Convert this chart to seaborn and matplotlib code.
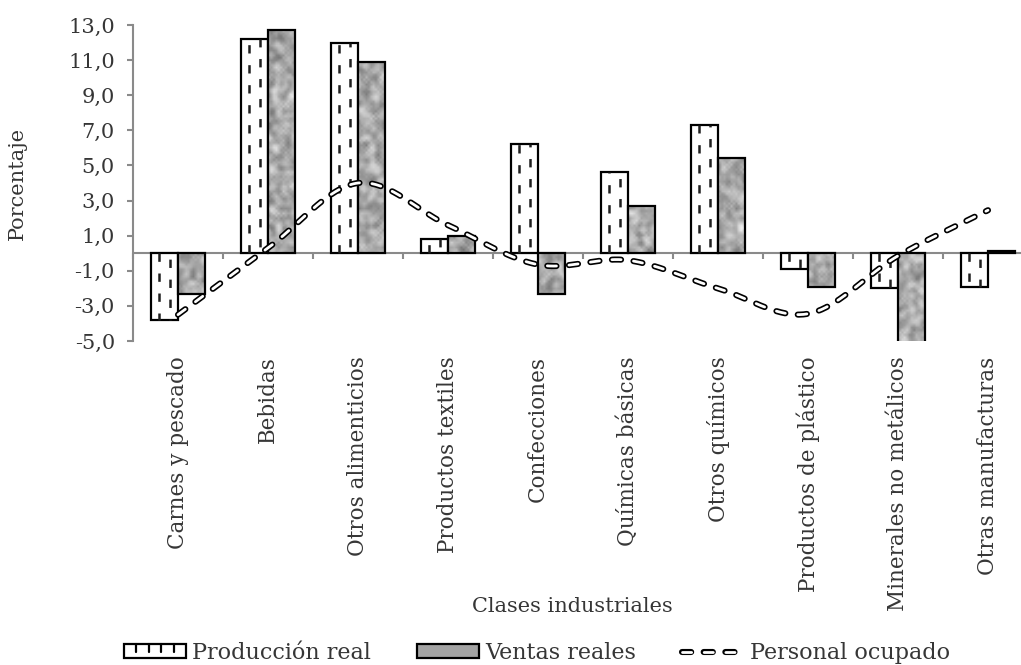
import numpy as np
import pandas as pd
import matplotlib
matplotlib.use("Agg")
import matplotlib.pyplot as plt
import seaborn as sns
from matplotlib.path import Path
from matplotlib.patches import PathPatch, Rectangle
from matplotlib.lines import Line2D
from matplotlib.legend_handler import HandlerBase, HandlerTuple
from matplotlib.ticker import FuncFormatter, FixedLocator

# ---- data -------------------------------------------------------------
clases = [
    "Carnes y pescado", "Bebidas", "Otros alimenticios", "Productos textiles",
    "Confecciones", "Químicas básicas", "Otros químicos", "Productos de plástico",
    "Minerales no metálicos", "Otras manufacturas",
]
produccion_real = [-3.8, 12.2, 12.0, 0.8, 6.2, 4.6, 7.3, -0.9, -2.0, -1.9]
ventas_reales = [-2.3, 12.7, 10.9, 1.0, -2.3, 2.7, 5.4, -1.9, -5.4, 0.1]
personal_ocupado = [-3.5, 0.3, 4.0, 1.6, -0.65, -0.4, -2.0, -3.45, -0.15, 2.45]
y_ticks = [-5, -3, -1, 1, 3, 5, 7, 9, 11, 13]

series_names = ["Producción real", "Ventas reales", "Personal ocupado"]

df = pd.DataFrame({
    "Clase": clases * 2,
    "Valor": produccion_real + ventas_reales,
    "Serie": [series_names[0]] * len(clases) + [series_names[1]] * len(clases),
})

# ---- style --------------------------------------------------------------
sns.set_style("white")
plt.rcParams["font.family"] = ["DejaVu Serif"]
plt.rcParams["lines.scale_dashes"] = False
TEXT = "#363636"
AXIS = "#8a8a8a"

fig = plt.figure(figsize=(10.21, 6.65), dpi=100)
ax = fig.add_axes([133 / 1021, 1 - 341 / 665, 900 / 1021, 316 / 665])

sns.barplot(
    data=df, x="Clase", y="Valor", hue="Serie", order=clases,
    hue_order=series_names[:2], palette=["white", "#a8a8a8"], saturation=1,
    width=0.6, errorbar=None, legend=False, edgecolor="black",
    linewidth=1.6, ax=ax, zorder=2,
)

ymin, ymax = y_ticks[0], y_ticks[-1]
ax.set_xlim(-0.5, len(clases) - 0.5)
ax.set_ylim(ymin, ymax)

prod_bars = ax.containers[0]
venta_bars = ax.containers[1]

# dashed stripes inside the production bars
for bar in prod_bars:
    x0, w, h = bar.get_x(), bar.get_width(), bar.get_height()
    for frac, off in ((0.3, 0.0), (0.7, 10.0)):
        ax.plot([x0 + w * frac] * 2, [0, h], color="#1e1e1e", lw=1.8,
                linestyle=(off, (6.0, 8.4)), zorder=2.5, solid_capstyle="butt")

# mottled grey texture clipped to the sales bars
rng = np.random.default_rng(11)
tex = rng.random((130, 380))
for _ in range(2):
    tex = (tex + np.roll(tex, 1, 0) + np.roll(tex, -1, 0)
           + np.roll(tex, 1, 1) + np.roll(tex, -1, 1)) / 5
tex = (tex - tex.min()) / (tex.max() - tex.min())
tex = 0.38 + 0.55 * tex
paths = [b.get_patch_transform().transform_path(b.get_path()) for b in venta_bars]
clip = PathPatch(Path.make_compound_path(*paths), transform=ax.transData,
                 facecolor="none", edgecolor="none")
ax.add_patch(clip)
img = ax.imshow(tex, cmap="gray", vmin=0, vmax=1, aspect="auto",
                extent=[-0.5, len(clases) - 0.5, ymin, ymax],
                interpolation="bilinear", zorder=2.2)
img.set_clip_path(clip)
for b in venta_bars:
    b.set_facecolor("none")
    b.set_zorder(2.3)
ax.set_xlim(-0.5, len(clases) - 0.5)
ax.set_ylim(ymin, ymax)


# smoothed employment line (Catmull-Rom through the category values)
def catmull_rom(vals, n=40):
    p = np.asarray(vals, dtype=float)
    m = np.empty_like(p)
    m[1:-1] = (p[2:] - p[:-2]) / 2
    m[0] = p[1] - p[0]
    m[-1] = p[-1] - p[-2]
    xs, ys = [], []
    t = np.linspace(0, 1, n, endpoint=False)
    for i in range(len(p) - 1):
        h00 = 2 * t**3 - 3 * t**2 + 1
        h10 = t**3 - 2 * t**2 + t
        h01 = -2 * t**3 + 3 * t**2
        h11 = t**3 - t**2
        ys.append(h00 * p[i] + h10 * m[i] + h01 * p[i + 1] + h11 * m[i + 1])
        xs.append(i + t)
    xs.append([len(p) - 1])
    ys.append([p[-1]])
    return np.concatenate(xs), np.concatenate(ys)


lx, ly = catmull_rom(personal_ocupado)
dash = (0, (6.6, 9.0))
ax.plot(lx, ly, color="black", lw=4.4, linestyle=dash,
        dash_capstyle="round", zorder=5)
ax.plot(lx, ly, color="white", lw=2.0, linestyle=dash,
        dash_capstyle="round", zorder=6)

# axes decoration
for s in ("top", "right", "bottom"):
    ax.spines[s].set_visible(False)
ax.spines["left"].set_color(AXIS)
ax.spines["left"].set_linewidth(1.5)
ax.axhline(0, color=AXIS, lw=1.5, zorder=1)

ax.yaxis.set_major_locator(FixedLocator(y_ticks))
ax.yaxis.set_major_formatter(FuncFormatter(lambda v, p: f"{v:.1f}".replace(".", ",")))
ax.tick_params(axis="y", which="major", left=True, direction="out", length=4,
               width=1.5, color=AXIS, labelsize=15, labelcolor=TEXT, pad=9)
ax.tick_params(axis="x", which="major", bottom=False, length=0,
               labelsize=15.5, labelcolor=TEXT, pad=11)
ax.set_xticks(range(len(clases)))
ax.set_xticklabels(clases, rotation=90, va="top", ha="center")

# category separators on the zero line
zero_frac = (0 - ymin) / (ymax - ymin)
sec = ax.secondary_xaxis(zero_frac)
sec.set_xticks(np.arange(len(clases) + 1) - 0.5)
sec.tick_params(axis="x", direction="out", length=4, width=1.5, color=AXIS,
                labelbottom=False)
sec.spines["bottom"].set_visible(False)

ax.set_ylabel("Porcentaje", fontsize=15, color=TEXT)
ax.yaxis.set_label_coords(-0.118, 0.5)
ax.set_xlabel("Clases industriales", fontsize=15, color=TEXT, va="top")
ax.xaxis.set_label_coords(0.488, -0.81)


# legend
class ProdHandler(HandlerBase):
    def create_artists(self, legend, orig, xd, yd, width, height, fontsize, trans):
        arts = [Rectangle((-xd, -yd), width, height, facecolor="white",
                          edgecolor="black", lw=1.6, transform=trans)]
        for k in range(1, 5):
            x = -xd + width * k / 5
            arts.append(Line2D([x, x], [-yd + height * 0.45, -yd + height],
                               color="black", lw=1.6, transform=trans))
        return arts


class VentasHandler(HandlerBase):
    def create_artists(self, legend, orig, xd, yd, width, height, fontsize, trans):
        return [Rectangle((-xd, -yd), width, height, facecolor="#a4a4a4",
                          edgecolor="black", lw=1.6, transform=trans)]


h_prod = Rectangle((0, 0), 1, 1)
h_vent = Rectangle((0, 0), 1, 1)
h_line = (
    Line2D([], [], color="black", lw=4.4, linestyle=dash, dash_capstyle="round"),
    Line2D([], [], color="white", lw=2.0, linestyle=dash, dash_capstyle="round"),
)
fig.legend(
    [h_prod, h_vent, h_line], series_names, loc="center",
    bbox_to_anchor=(537 / 1021, 1 - 653 / 665), ncol=3, frameon=False,
    fontsize=16, labelcolor=TEXT, handlelength=2.8, handleheight=0.55,
    handletextpad=0.25, columnspacing=2.1,
    handler_map={h_prod: ProdHandler(), h_vent: VentasHandler(),
                 tuple: HandlerTuple(ndivide=1)},
)

fig.savefig("out.png", dpi=100)
